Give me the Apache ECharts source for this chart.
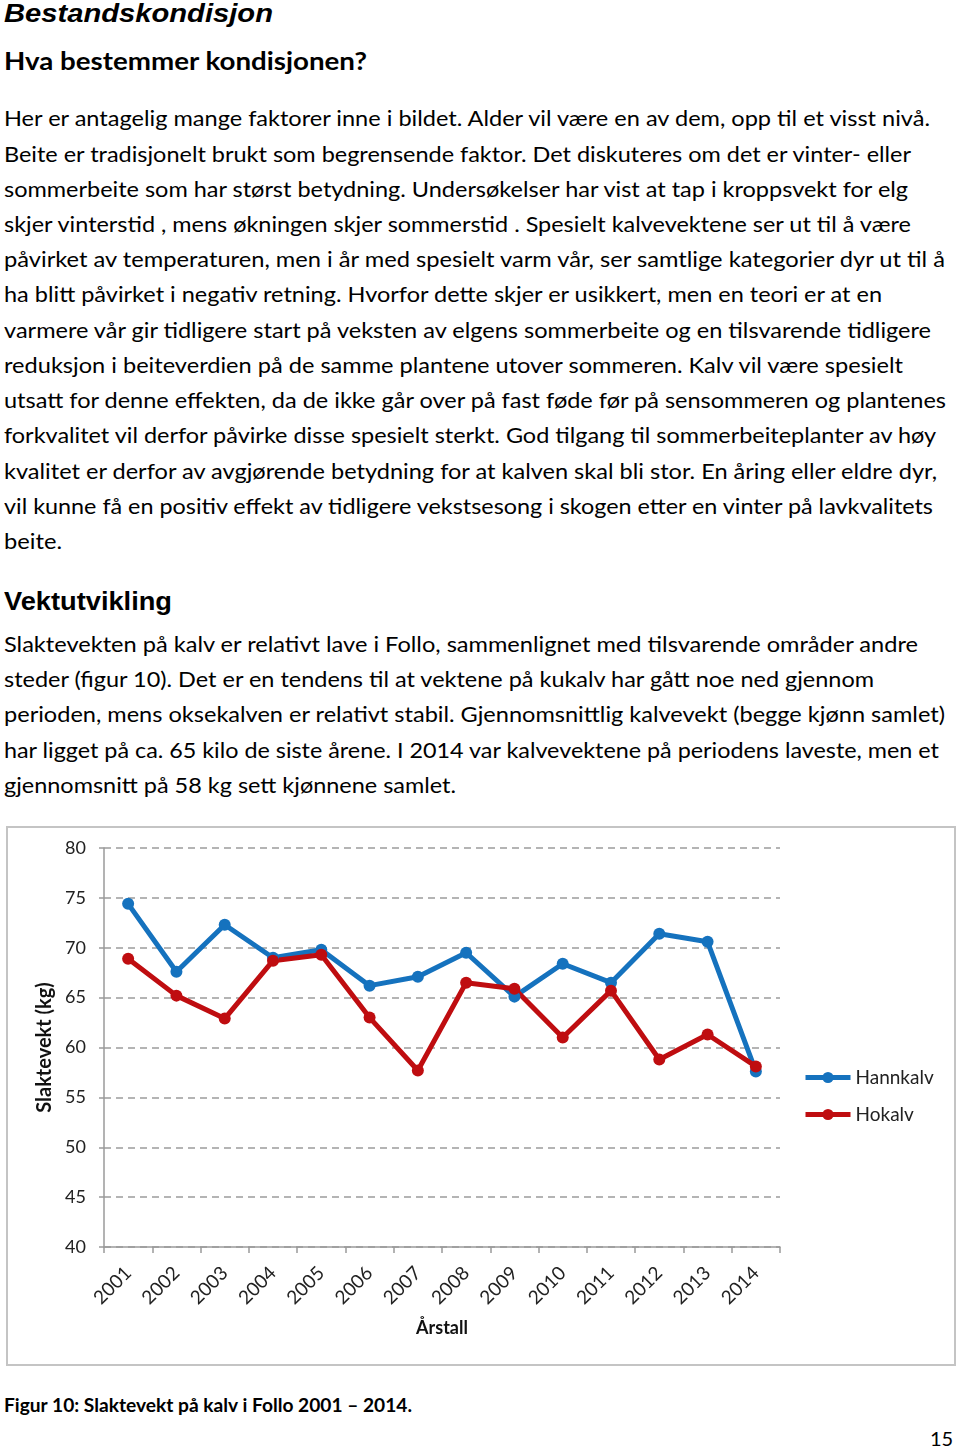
<!DOCTYPE html>
<html>
<head>
<meta charset="utf-8">
<script src="https://cdn.jsdelivr.net/npm/echarts@6/dist/echarts.min.js"></script>
<style>
  html, body { margin: 0; padding: 0; background: #fff; }
  body { width: 960px; height: 1450px; position: relative; overflow: hidden; color: #000; }
  .ln { position: absolute; left: 4px; white-space: nowrap; font-family: Lato, "Open Sans", sans-serif; font-size: 21px; line-height: 30px; height: 30px; transform-origin: 0 50%; }
  .h1 { font-family: "Liberation Sans", Arial, sans-serif; font-weight: bold; font-style: italic; font-size: 26px; }
  .h2 { font-family: Lato, sans-serif; font-weight: bold; font-size: 25px; }
  .h3 { font-family: "Liberation Sans", Arial, sans-serif; font-weight: bold; font-size: 25px; }
  .cap { font-family: Lato, sans-serif; font-weight: bold; font-size: 18px; }
  #box { position: absolute; left: 6px; top: 826px; width: 950px; height: 540px; box-sizing: border-box; border: 2px solid #c4c4c4; }
  #chart { position: absolute; left: 6px; top: 826px; width: 950px; height: 540px; }
</style>
</head>
<body>
<div id="text"></div>
<div id="box"></div>
<div id="chart"></div>
<script>
// ---- chart data ----
const years = ['2001','2002','2003','2004','2005','2006','2007','2008','2009','2010','2011','2012','2013','2014'];
const hannkalv = [74.4, 67.6, 72.3, 69.0, 69.8, 66.2, 67.1, 69.5, 65.1, 68.4, 66.5, 71.4, 70.6, 57.6];
const hokalv   = [68.9, 65.2, 62.9, 68.7, 69.3, 63.0, 57.7, 66.5, 65.9, 61.0, 65.7, 58.8, 61.3, 58.1];
const seriesNames = ['Hannkalv', 'Hokalv'];
const yTicks = [40, 45, 50, 55, 60, 65, 70, 75, 80];

// ---- page text: [text, class, centerY, targetRightX] ----
const lines = [
  ['Bestandskondisjon', 'h1', 13, 273],
  ['Hva bestemmer kondisjonen?', 'h2', 60, 367],
  ['Her er antagelig mange faktorer inne i bildet. Alder vil være en av dem, opp til et visst nivå.', '', 118, 930],
  ['Beite er tradisjonelt brukt som begrensende faktor. Det diskuteres om det er vinter- eller', '', 154, 911],
  ['sommerbeite som har størst betydning. Undersøkelser har vist at tap i kroppsvekt for elg', '', 189, 908],
  ['skjer vinterstid , mens økningen skjer sommerstid . Spesielt kalvevektene ser ut til å være', '', 224, 911],
  ['påvirket av temperaturen, men i år med spesielt varm vår, ser samtlige kategorier dyr ut til å', '', 259, 945],
  ['ha blitt påvirket i negativ retning. Hvorfor dette skjer er usikkert, men en teori er at en', '', 294, 882],
  ['varmere vår gir tidligere start på veksten av elgens sommerbeite og en tilsvarende tidligere', '', 330, 931],
  ['reduksjon i beiteverdien på de samme plantene utover sommeren. Kalv vil være spesielt', '', 365, 903],
  ['utsatt for denne effekten, da de ikke går over på fast føde før på sensommeren og plantenes', '', 400, 946],
  ['forkvalitet vil derfor påvirke disse spesielt sterkt. God tilgang til sommerbeiteplanter av høy', '', 435, 936],
  ['kvalitet er derfor av avgjørende betydning for at kalven skal bli stor. En åring eller eldre dyr,', '', 471, 937],
  ['vil kunne få en positiv effekt av tidligere vekstsesong i skogen etter en vinter på lavkvalitets', '', 506, 933],
  ['beite.', '', 541, 62],
  ['Vektutvikling', 'h3', 601, 172],
  ['Slaktevekten på kalv er relativt lave i Follo, sammenlignet med tilsvarende områder andre', '', 644, 918],
  ['steder (figur 10). Det er en tendens til at vektene på kukalv har gått noe ned gjennom', '', 679, 874],
  ['perioden, mens oksekalven er relativt stabil. Gjennomsnittlig kalvevekt (begge kjønn samlet)', '', 714, 945],
  ['har ligget på ca. 65 kilo de siste årene. I 2014 var kalvevektene på periodens laveste, men et', '', 750, 939],
  ['gjennomsnitt på 58 kg sett kjønnene samlet.', '', 785, 456],
  ['Figur 10: Slaktevekt på kalv i Follo 2001 – 2014.', 'cap', 1405, 412]
];

const holder = document.getElementById('text');
const els = [];
lines.forEach(([t, cls, cy, rx]) => {
  const d = document.createElement('div');
  d.className = 'ln ' + cls;
  d.textContent = t;
  d.style.top = (cy - 15) + 'px';
  holder.appendChild(d);
  els.push([d, rx - 4]);
});
const pn = document.createElement('div');
pn.className = 'ln';
pn.textContent = '15';
pn.style.left = '930px';
pn.style.top = (1438 - 15) + 'px';
pn.style.fontSize = '20px';
holder.appendChild(pn);

function fit() {
  els.forEach(([d, w]) => {
    d.style.transform = 'none';
    const a = d.getBoundingClientRect().width;
    if (a > 0) d.style.transform = 'scaleX(' + (w / a).toFixed(4) + ')';
  });
}
fit();
if (document.fonts && document.fonts.ready) document.fonts.ready.then(fit);

// ---- chart ----
const chart = echarts.init(document.getElementById('chart'), null, { renderer: 'canvas' });
const font = 'Lato, "Open Sans", sans-serif';
const blue = '#1572be';
const red = '#bf0d10';
chart.setOption({
  animation: false,
  backgroundColor: 'transparent',
  grid: { left: 98, top: 22, right: 176, bottom: 119, outerBoundsMode: 'none', containLabel: false },
  legend: {
    orient: 'vertical',
    left: 792,
    top: 237,
    itemWidth: 45,
    itemHeight: 14,
    itemGap: 18,
    data: seriesNames,
    lineStyle: { width: 5 },
    textStyle: { fontFamily: font, fontSize: 19, color: '#222' }
  },
  xAxis: {
    type: 'category',
    data: years,
    boundaryGap: true,
    name: 'Årstall',
    nameLocation: 'middle',
    nameGap: 72,
    nameTextStyle: { fontFamily: font, fontSize: 18, fontWeight: 'bold', color: '#111' },
    axisLine: { lineStyle: { color: '#9a9a9a', width: 1.5 } },
    axisTick: { show: true, alignWithLabel: false, length: 6, lineStyle: { color: '#9a9a9a', width: 1.5 } },
    axisLabel: { rotate: 45, margin: 23, fontFamily: font, fontSize: 19, color: '#222', interval: 0 },
    splitLine: { show: false }
  },
  yAxis: {
    type: 'value',
    min: yTicks[0],
    max: yTicks[yTicks.length - 1],
    interval: 5,
    name: 'Slaktevekt (kg)',
    nameLocation: 'middle',
    nameGap: 46,
    nameRotate: 90,
    nameTextStyle: { fontFamily: font, fontSize: 20, fontWeight: 'bold', color: '#111' },
    axisLine: { show: true, lineStyle: { color: '#9a9a9a', width: 1.5 } },
    axisTick: { show: true, length: 5, lineStyle: { color: '#9a9a9a', width: 1.5 } },
    axisLabel: { margin: 18, fontFamily: font, fontSize: 18, color: '#222' },
    splitLine: { show: true, lineStyle: { color: '#9c9c9c', width: 1.5, type: [7, 5] } }
  },
  series: [
    {
      name: seriesNames[0], type: 'line', data: hannkalv,
      symbol: 'circle', symbolSize: 12, showSymbol: true,
      lineStyle: { color: blue, width: 5 }, itemStyle: { color: blue }
    },
    {
      name: seriesNames[1], type: 'line', data: hokalv,
      symbol: 'circle', symbolSize: 12, showSymbol: true,
      lineStyle: { color: red, width: 5 }, itemStyle: { color: red }
    }
  ]
});
</script>
</body>
</html>
